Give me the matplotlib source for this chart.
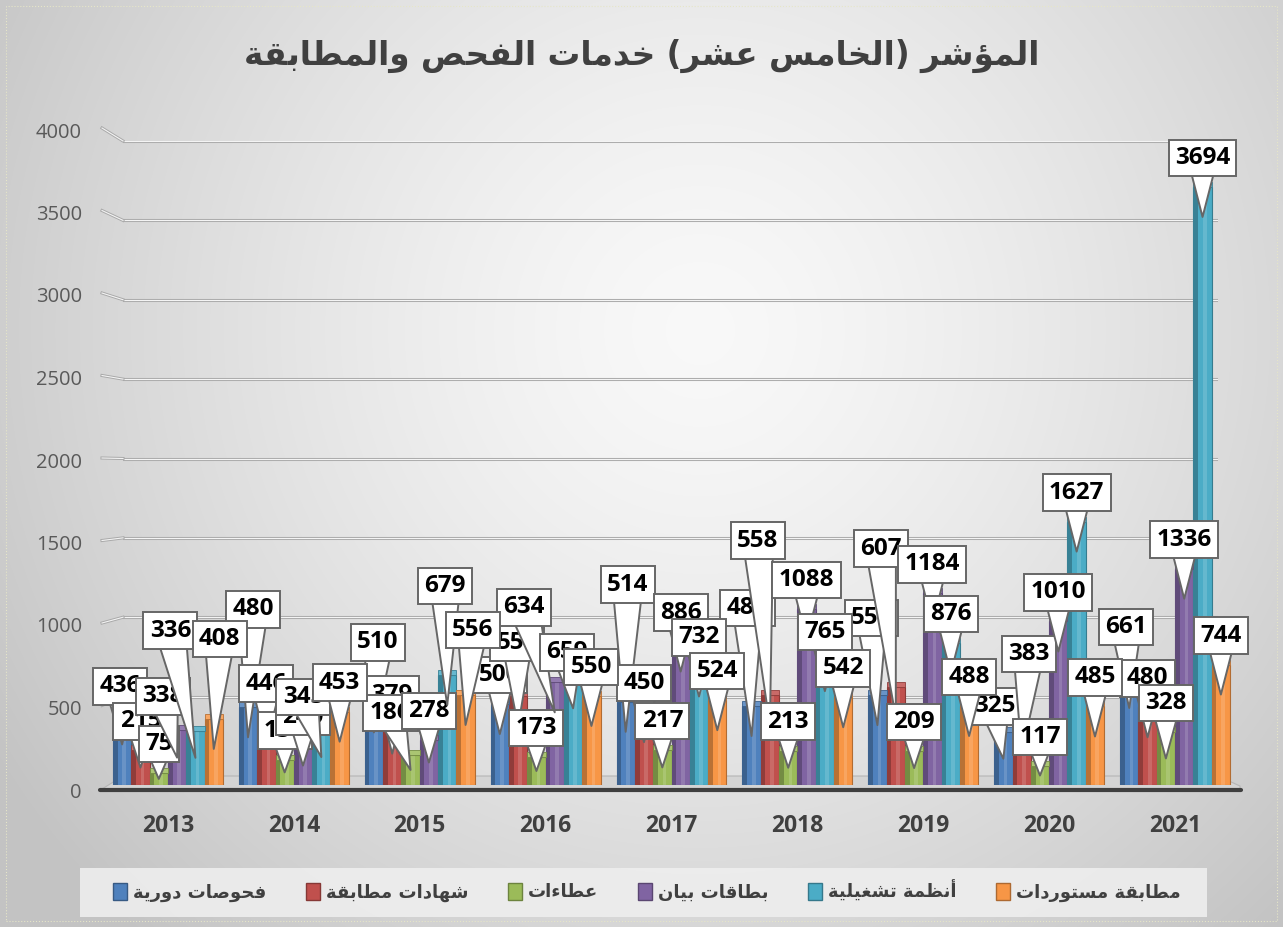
import numpy as np
import matplotlib
matplotlib.use('Agg')
import matplotlib.pyplot as plt
import matplotlib.transforms as mtransforms
from matplotlib.patches import Patch, Polygon, Rectangle
from matplotlib.lines import Line2D
from matplotlib import colors as mcolors

# ---------------- data ----------------
years = ['2013', '2014', '2015', '2016', '2017', '2018', '2019', '2020', '2021']
series_names = ['فحوصات دورية', 'شهادات مطابقة', 'عطاءات', 'بطاقات بيان',
                'أنظمة تشغيلية', 'مطابقة مستوردات']
periodic_inspections = [436, 480, 510, 500, 514, 488, 555, 325, 661]
conformity_certificates = [215, 446, 379, 550, 450, 558, 607, 383, 480]
tenders = [75, 156, 186, 173, 217, 213, 209, 117, 328]
data_cards = [338, 240, 278, 634, 886, 1088, 1184, 1010, 1336]
operating_systems = [336, 345, 679, 659, 732, 765, 876, 1627, 3694]
import_conformity = [408, 453, 556, 550, 524, 542, 488, 485, 744]
y_ticks = [0, 500, 1000, 1500, 2000, 2500, 3000, 3500, 4000]
title_text = 'المؤشر (الخامس عشر) خدمات الفحص والمطابقة'

series = [periodic_inspections, conformity_certificates, tenders,
          data_cards, operating_systems, import_conformity]
colors = ['#4F81BD', '#C0504D', '#9BBB59', '#8064A2', '#4BACC6', '#F79646']

# label nudges (pixels, relative to bar top): (year index, series index) -> (dx, up)
DEFAULT_NUDGE = (0, 29)
NUDGE = {(0, 0): (-2, 28), (0, 3): (-14, 34), (0, 4): (-25, 100), (0, 5): (6, 80),
         (1, 0): (5, 98), (1, 4): (-18, 32),
         (2, 0): (4, 60), (2, 2): (-20, 42), (2, 4): (-2, 89), (2, 5): (7, 65),
         (3, 1): (-1, 53), (3, 3): (-31, 75), (3, 4): (-6, 26),
         (4, 0): (2, 117),
         (5, 0): (-4, 98), (5, 1): (-12, 154),
         (6, 0): (-6, 77), (6, 1): (-15, 138),
         (7, 0): (-9, 26), (7, 1): (7, 69),
         (8, 0): (-3, 51)}


# ---------------- Arabic shaping (presentation forms + RTL order) ----------------
def _build_forms():
    codes = list(range(0x0621, 0x063B)) + list(range(0x0641, 0x064B))
    nforms = {0x0621: 1, 0x0622: 2, 0x0623: 2, 0x0624: 2, 0x0625: 2, 0x0627: 2,
              0x0629: 2, 0x062F: 2, 0x0630: 2, 0x0631: 2, 0x0632: 2, 0x0648: 2,
              0x0649: 2}
    forms = {}
    cur = 0xFE80
    for c in codes:
        n = nforms.get(c, 4)
        forms[chr(c)] = [chr(cur + k) for k in range(n)]
        cur += n
    return forms


FORMS = _build_forms()
LAMALEF = {'\u0622': 0xFEF5, '\u0623': 0xFEF7, '\u0625': 0xFEF9, '\u0627': 0xFEFB}


def shape_arabic(text):
    ch = list(text)
    n = len(ch)
    res = []
    i = 0
    while i < n:
        c = ch[i]
        if c not in FORMS:
            res.append(c)
            i += 1
            continue
        prev = ch[i - 1] if i > 0 else None
        prev_joins = prev is not None and prev in FORMS and len(FORMS[prev]) == 4
        if c == '\u0644' and i + 1 < n and ch[i + 1] in LAMALEF:
            lig = LAMALEF[ch[i + 1]]
            res.append(chr(lig + 1) if prev_joins else chr(lig))
            i += 2
            continue
        f = FORMS[c]
        nxt = ch[i + 1] if i + 1 < n else None
        next_joins = len(f) == 4 and nxt is not None and nxt in FORMS and len(FORMS[nxt]) >= 2
        can_prev = len(f) >= 2 and prev_joins
        if can_prev and next_joins:
            res.append(f[3])
        elif can_prev:
            res.append(f[1])
        elif next_joins:
            res.append(f[2])
        else:
            res.append(f[0])
        i += 1
    mirror = {'(': ')', ')': '('}
    return ''.join(mirror.get(c, c) for c in reversed(res))


def shade(col, f):
    r, g, b = mcolors.to_rgb(col)
    if f < 1:
        return (r * f, g * f, b * f)
    t = f - 1
    return (r + (1 - r) * t, g + (1 - g) * t, b + (1 - b) * t)


# ---------------- figure ----------------
W_PX, H_PX = 1283, 927
fig = plt.figure(figsize=(W_PX / 100, H_PX / 100), dpi=100)


def fx(px):
    return px / W_PX


def fy(py):
    return 1 - py / H_PX


# background gradient
bg = fig.add_axes([0, 0, 1, 1], zorder=-10)
yy, xx = np.mgrid[0:H_PX, 0:W_PX]
r = np.sqrt((xx - 700.0) ** 2 + (yy - 330.0) ** 2)
g = 0.975 - 0.21 * np.clip(r / 830.0, 0, 1) ** 1.4
bg.imshow(np.dstack([g, g, g]), aspect='auto', extent=[0, 1, 0, 1])
bg.set_axis_off()
fig.add_artist(Rectangle((fx(6), fy(921)), fx(1271), 915 / H_PX, fill=False,
                         ec='#e6e6c8', lw=0.8, ls=':', transform=fig.transFigure))

# grid axes (back wall)
ax_grid = fig.add_axes([fx(123), fy(776), fx(1218) - fx(123), (776 - 141) / H_PX], zorder=0)
ax_grid.set_ylim(0, 4000)
ax_grid.set_xlim(0, 1)
ax_grid.patch.set_alpha(0)
for v in y_ticks[1:]:
    ax_grid.axhline(v, color='#a9a9a9', lw=2.2, zorder=1)
    ax_grid.axhline(v, color='#f4f4f4', lw=0.8, zorder=2)
ax_grid.set_axis_off()

# label axes (y tick labels)
ax_lab = fig.add_axes([fx(102), fy(790), 0.001, (790 - 130) / H_PX], zorder=0)
ax_lab.set_ylim(0, 4000)
ax_lab.set_yticks(y_ticks)
ax_lab.set_yticklabels([str(t) for t in y_ticks], fontsize=14.5, color='#595959',
                       family='Open Sans')
ax_lab.tick_params(axis='y', length=0, pad=14.5)
ax_lab.set_xticks([])
for s in ax_lab.spines.values():
    s.set_visible(False)
ax_lab.patch.set_alpha(0)

# stubs joining label axis and back wall
inv = fig.transFigure.inverted()
for v in y_ticks[1:]:
    p1 = inv.transform(ax_lab.transData.transform((0, v))) + np.array([0, 2 / H_PX])
    p2 = inv.transform(ax_grid.transData.transform((0, v)))
    fig.add_artist(Line2D([p1[0], p2[0]], [p1[1], p2[1]], color='#a9a9a9', lw=2.2,
                          transform=fig.transFigure, zorder=0.5))
    fig.add_artist(Line2D([p1[0], p2[0]], [p1[1], p2[1]], color='#f4f4f4', lw=0.8,
                          transform=fig.transFigure, zorder=0.6))

# floor
floor = Polygon([(fx(102), fy(789)), (fx(123), fy(776)), (fx(1218), fy(776)),
                 (fx(1240), fy(786)), (fx(1240), fy(789))], closed=True,
                fc='#d4d4d4', ec='#b5b5b5', lw=0.8, transform=fig.transFigure, zorder=0.7)
fig.add_artist(floor)
fig.add_artist(Line2D([fx(100), fx(1241)], [fy(790), fy(790)], color='#3f3f3f', lw=3.0,
                      transform=fig.transFigure, zorder=0.8, solid_capstyle='round'))

# main axes (bars)
ax = fig.add_axes([fx(105), fy(785), fx(1238) - fx(105), (785 - 137.4) / H_PX], zorder=2)
ax.set_xlim(-0.5, 8.5)
ax.set_ylim(0, 4000)
ax.patch.set_alpha(0)
for s in ax.spines.values():
    s.set_visible(False)
ax.set_yticks([])
x = np.arange(len(years))
ax.set_xticks(x)
ax.set_xticklabels(years, fontsize=16.5, fontweight='bold', color='#404040', family='Open Sans')
ax.tick_params(axis='x', length=0, pad=21)

W = 0.1456
px_per_unit = ax.get_window_extent().height / 4000.0
cap = 5.0 / px_per_unit

for j, (vals, col) in enumerate(zip(series, colors)):
    xs = x + (j - 2.5) * W
    ax.bar(xs, vals, width=W, color=col, edgecolor=shade(col, 0.72), linewidth=0.8, zorder=3)
    ax.bar(xs - W * 0.5 + W * 0.13, vals, width=W * 0.26, color=shade(col, 0.75),
           linewidth=0, zorder=3.1)
    ax.bar(xs + W * 0.12, vals, width=W * 0.2, color='white', alpha=0.15, linewidth=0, zorder=3.2)
    ax.bar(xs, [cap] * len(vals), bottom=vals, width=W, color=shade(col, 1.15),
           edgecolor=shade(col, 0.75), linewidth=0.6, zorder=3.3)

# callout labels
for j, vals in enumerate(series):
    for i, v in enumerate(vals):
        xb = i + (j - 2.5) * W
        dx, up = NUDGE.get((i, j), DEFAULT_NUDGE)
        tip_down = min(30.0, 0.5 * v * px_per_unit)
        tr = mtransforms.offset_copy(ax.transData, fig=fig, x=0, y=-tip_down, units='dots')
        ax.annotate(str(v), xy=(xb, v), xycoords=tr, xytext=(dx, up + tip_down),
                    textcoords='offset pixels', ha='center', va='center',
                    fontsize=17.5, fontweight='bold', family='Open Sans', color='black',
                    bbox=dict(boxstyle='square,pad=0.26', fc='white', ec='#666666', lw=1.4),
                    arrowprops=dict(arrowstyle='wedge,tail_width=1.25,shrink_factor=0.5',
                                    fc='white', ec='#666666', lw=1.4, patchA=None,
                                    shrinkA=0, shrinkB=0),
                    zorder=10 + j, annotation_clip=False)

# title
fig.text(0.5, fy(56), shape_arabic(title_text), ha='center', va='center', fontsize=23.5,
         fontweight='bold', color='#404040', family=['DejaVu Sans'])

# legend
fig.add_artist(Rectangle((fx(80), fy(917)), fx(1207) - fx(80), 49 / H_PX,
                         fc='#eeeeee', ec='none', alpha=0.9, transform=fig.transFigure,
                         zorder=1))
handles = [Patch(fc=c, ec=shade(c, 0.7), lw=1.0) for c in colors]
leg = fig.legend(handles, [shape_arabic(s) for s in series_names], ncol=6,
                 loc='center', bbox_to_anchor=(fx(647), fy(891)), frameon=False,
                 prop={'family': 'DejaVu Sans', 'weight': 'bold', 'size': 13},
                 handlelength=0.75, handleheight=1.1, handletextpad=0.35,
                 columnspacing=2.2)
for t in leg.get_texts():
    t.set_color('#404040')

fig.savefig('out.png', dpi=100)
